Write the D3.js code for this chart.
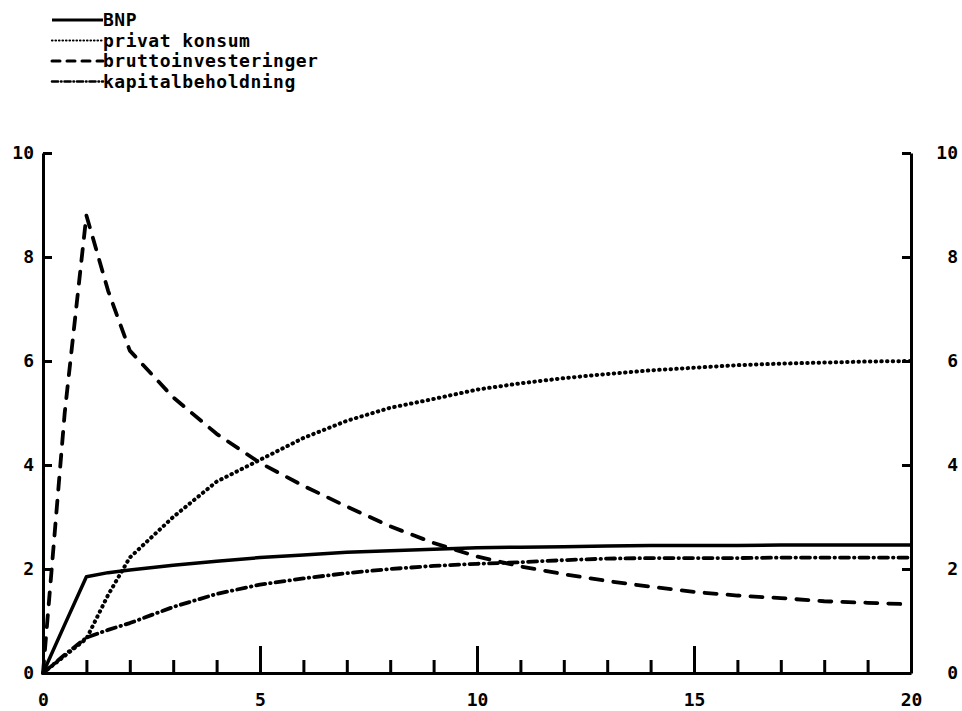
<!DOCTYPE html>
<html>
<head>
<meta charset="utf-8">
<script src="https://cdn.jsdelivr.net/npm/d3@7"></script>
<style>
  body { margin: 0; background: #fff; }
  svg { display: block; }
  .axis path, .axis line { stroke: #000; stroke-width: 3; }
  .axis text { font-family: "DejaVu Sans Mono", monospace; font-weight: bold; font-size: 18px; fill: #000; }
  .legend text { font-family: "DejaVu Sans Mono", monospace; font-weight: bold; font-size: 18px; fill: #000; }
</style>
</head>
<body>
<svg id="chart" width="962" height="711"></svg>
<script>
// time axis (years), finer steps during the first two years
const years = [0, 0.5, 1, 1.5, 2, 3, 4, 5, 6, 7, 8, 9, 10, 11, 12, 13, 14, 15, 16, 17, 18, 19, 20];

const bnp = [0, 0.93, 1.85, 1.93, 1.98, 2.07, 2.15, 2.22, 2.27, 2.32, 2.35, 2.38, 2.41, 2.42, 2.43, 2.44, 2.45, 2.45, 2.45, 2.46, 2.46, 2.46, 2.46];
const privatKonsum = [0, 0.33, 0.66, 1.5, 2.22, 3.0, 3.68, 4.1, 4.52, 4.85, 5.1, 5.27, 5.45, 5.57, 5.67, 5.75, 5.82, 5.87, 5.92, 5.95, 5.97, 5.99, 6.0];
const bruttoinvesteringer = [0, 5.0, 8.8, 7.35, 6.2, 5.3, 4.6, 4.04, 3.6, 3.2, 2.82, 2.5, 2.24, 2.05, 1.9, 1.77, 1.66, 1.56, 1.49, 1.44, 1.38, 1.35, 1.32];
const kapitalbeholdning = [0, 0.35, 0.68, 0.83, 0.96, 1.27, 1.52, 1.7, 1.82, 1.92, 2.0, 2.06, 2.1, 2.13, 2.17, 2.2, 2.21, 2.21, 2.21, 2.22, 2.22, 2.22, 2.22];

const seriesNames = ["BNP", "privat konsum", "bruttoinvesteringer", "kapitalbeholdning"];
const xTicks = [0, 5, 10, 15, 20];
const yTicks = [0, 2, 4, 6, 8, 10];

const svg = d3.select('#chart');

const x = d3.scaleLinear().domain([0, 20]).range([43, 911]);
const y = d3.scaleLinear().domain([0, 10]).range([673, 153]);

// line styles, in the order of seriesNames
const styles = [
    { dash: null, width: 3.5 },
    { dash: "0.5 5.2", width: 4 },
    { dash: "12 11", width: 3.8 },
    { dash: "9 5 0.5 5", width: 3.8 }
];

const series = [bnp, privatKonsum, bruttoinvesteringer, kapitalbeholdning].map((vals, i) => ({
    name: seriesNames[i],
    style: styles[i],
    points: years.map((t, j) => [t, vals[j]])
}));

// bottom axis: minor ticks every year, longer ticks every 5
svg.append('g')
    .attr('class', 'axis')
    .attr('transform', `translate(0,${y(0)})`)
    .call(d3.axisBottom(x).tickValues(d3.range(1, 20)).tickSize(-13).tickSizeOuter(0).tickFormat(''))
    .call(g => g.selectAll('.tick line').attr('stroke-width', 2.5));

svg.append('g')
    .attr('class', 'axis')
    .attr('transform', `translate(0,${y(0)})`)
    .call(d3.axisBottom(x).tickValues(xTicks).tickSize(-27).tickSizeOuter(0).tickPadding(20))
    .call(g => g.select('.domain').remove())
    .call(g => g.selectAll('.tick line').attr('stroke-width', 2.5));

// left and right axes, ticks pointing inward
svg.append('g')
    .attr('class', 'axis')
    .attr('transform', `translate(${x(0)},0)`)
    .call(d3.axisLeft(y).tickValues(yTicks).tickSize(-9).tickSizeOuter(0).tickPadding(9));

svg.append('g')
    .attr('class', 'axis')
    .attr('transform', `translate(${x(20)},0)`)
    .call(d3.axisRight(y).tickValues(yTicks).tickSize(-9).tickSizeOuter(0))
    .call(g => g.selectAll('.tick text').attr('text-anchor', 'end').attr('x', 47));

// data lines
const line = d3.line()
    .x(d => x(d[0]))
    .y(d => y(d[1]));

svg.append('g')
    .selectAll('path')
    .data(series)
    .join('path')
    .attr('d', s => line(s.points))
    .attr('fill', 'none')
    .attr('stroke', '#000')
    .attr('stroke-width', s => s.style.width)
    .attr('stroke-linecap', s => s.style.dash ? 'round' : 'butt')
    .attr('stroke-linejoin', 'round')
    .attr('stroke-dasharray', s => s.style.dash);

// legend top left
const legendStyles = [
    { dash: null, width: 3 },
    { dash: "0.5 3", width: 2.2 },
    { dash: "8 7", width: 3 },
    { dash: "6 3 0.5 3", width: 2.6 }
];

const legend = svg.append('g')
    .attr('class', 'legend')
    .selectAll('g')
    .data(series)
    .join('g')
    .attr('transform', (s, i) => `translate(52,${20 + i * 20.5})`);

legend.append('line')
    .attr('x1', 0)
    .attr('x2', 51)
    .attr('stroke', '#000')
    .attr('stroke-width', (s, i) => legendStyles[i].width)
    .attr('stroke-linecap', (s, i) => legendStyles[i].dash ? 'round' : 'butt')
    .attr('stroke-dasharray', (s, i) => legendStyles[i].dash);

legend.append('text')
    .attr('x', 51)
    .attr('y', 6)
    .attr('letter-spacing', 0.5)
    .text(s => s.name);
</script>
</body>
</html>
